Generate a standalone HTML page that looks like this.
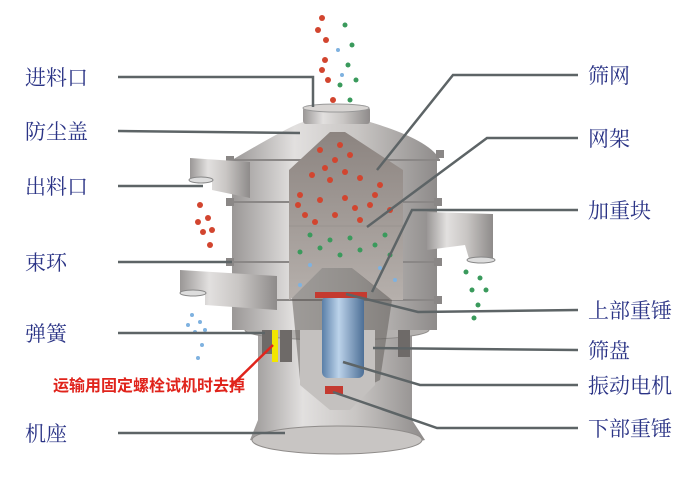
<!DOCTYPE html>
<html><head><meta charset="utf-8"><style>
html,body{margin:0;padding:0;background:#fff;}
svg{display:block}
.lb{font-family:"Noto Serif CJK SC","Liberation Serif",serif;font-size:21px;fill:#2b3486;}
</style></head><body>
<svg width="700" height="500" viewBox="0 0 700 500" xmlns="http://www.w3.org/2000/svg">
<defs>
<linearGradient id="m" x1="0" x2="1" y1="0" y2="0">
<stop offset="0" stop-color="#9a9796"/><stop offset="0.3" stop-color="#e2e0df"/><stop offset="0.6" stop-color="#c9c6c4"/><stop offset="1" stop-color="#8e8b8a"/></linearGradient>
<linearGradient id="b" x1="0" x2="1"><stop offset="0" stop-color="#5a7fa8"/><stop offset="0.4" stop-color="#bcd3ea"/><stop offset="1" stop-color="#4d6f96"/></linearGradient>
<linearGradient id="in" x1="0" x2="0" y1="0" y2="1"><stop offset="0" stop-color="#8c8480"/><stop offset="1" stop-color="#b6b0ac"/></linearGradient>
</defs>
<!-- base -->
<path d="M258 335 L412 335 L412 420 L425 440 Q340 460 250 440 L258 420Z" fill="url(#m)"/>
<ellipse cx="337" cy="440" rx="85" ry="14" fill="#c8c5c3" stroke="#8f8c8a"/>
<ellipse cx="337" cy="330" rx="92" ry="10" fill="#b4b1af" stroke="#8f8c8a"/>
<!-- springs -->
<rect x="262" y="322" width="12" height="32" fill="#6e6a68"/>
<rect x="280" y="322" width="12" height="40" fill="#6e6a68"/>
<rect x="398" y="322" width="12" height="35" fill="#6e6a68"/>
<rect x="272" y="328" width="6" height="34" fill="#f2e600"/>
<!-- body -->
<rect x="232" y="160" width="205" height="170" fill="url(#m)"/>
<path d="M232 160 Q300 120 305 122 L370 122 Q430 140 440 160Z" fill="url(#m)"/>
<rect x="303" y="107" width="67" height="17" rx="3" fill="url(#m)"/>
<ellipse cx="336" cy="108" rx="33" ry="4" fill="#d8d5d3" stroke="#999"/>
<path d="M232 160 L440 160 M232 202 L437 202 M232 262 L437 262 M232 300 L437 300" stroke="#8a8786" stroke-width="2"/>
<g fill="#8a8786"><rect x="226" y="156" width="8" height="8"/><rect x="436" y="150" width="8" height="8"/><rect x="226" y="198" width="8" height="8"/><rect x="434" y="198" width="8" height="8"/><rect x="226" y="258" width="8" height="8"/><rect x="434" y="258" width="8" height="8"/><rect x="434" y="296" width="8" height="8"/></g>
<!-- outlets -->
<path d="M190 158 L250 162 L250 198 L212 190 L212 180 L190 178Z" fill="url(#m)"/>
<ellipse cx="201" cy="180" rx="12" ry="3" fill="#ddd" stroke="#888"/>
<path d="M180 270 L277 276 L277 310 L205 305 L205 292 L180 292Z" fill="url(#m)"/>
<ellipse cx="193" cy="293" rx="13" ry="3" fill="#ddd" stroke="#888"/>
<path d="M427 212 L493 214 L493 260 L470 262 L465 245 L427 250Z" fill="url(#m)"/>
<ellipse cx="481" cy="260" rx="14" ry="3" fill="#ddd" stroke="#888"/>
<!-- cutaway -->
<path d="M289 170 L330 132 L345 132 L403 170 L403 300 L390 300 L352 268 L322 268 L292 298 L289 300Z" fill="url(#in)"/>
<path d="M289 226 L403 226" stroke="#9e9894" stroke-width="2"/>
<path d="M292 298 L322 268 L352 268 L392 300 L380 380 L340 400 L300 380Z" fill="#5a5552" opacity="0.5"/>
<path d="M300 330 L300 385 L330 410 L350 410 L375 385 L375 330Z" fill="#c4c1bf"/>
<rect x="322" y="296" width="42" height="82" rx="6" fill="url(#b)"/>
<rect x="315" y="292" width="52" height="6" fill="#c43a30"/>
<rect x="325" y="386" width="18" height="8" fill="#c43a30"/>
<!-- particles -->
<g fill="#d2452f">
<circle cx="320" cy="150" r="3"/><circle cx="335" cy="160" r="3"/><circle cx="350" cy="155" r="3"/><circle cx="312" cy="175" r="3"/><circle cx="330" cy="180" r="3"/><circle cx="360" cy="178" r="3"/><circle cx="380" cy="185" r="3"/><circle cx="300" cy="195" r="3"/><circle cx="320" cy="200" r="3"/><circle cx="345" cy="198" r="3"/><circle cx="370" cy="205" r="3"/><circle cx="390" cy="210" r="3"/><circle cx="305" cy="215" r="3"/><circle cx="335" cy="215" r="3"/><circle cx="360" cy="220" r="3"/>
<circle cx="340" cy="145" r="3"/><circle cx="325" cy="168" r="3"/><circle cx="345" cy="172" r="3"/><circle cx="298" cy="205" r="3"/><circle cx="375" cy="195" r="3"/><circle cx="355" cy="208" r="3"/><circle cx="315" cy="222" r="3"/>
<circle cx="200" cy="205" r="3"/><circle cx="208" cy="218" r="3"/><circle cx="203" cy="232" r="3"/><circle cx="210" cy="245" r="3"/><circle cx="198" cy="222" r="3"/><circle cx="212" cy="230" r="3"/>
<circle cx="322" cy="18" r="3"/><circle cx="326" cy="40" r="3"/><circle cx="325" cy="60" r="3"/><circle cx="328" cy="80" r="3"/><circle cx="333" cy="100" r="3"/><circle cx="318" cy="30" r="3"/><circle cx="322" cy="70" r="3"/></g>
<g fill="#3a9a5c">
<circle cx="310" cy="235" r="2.5"/><circle cx="330" cy="240" r="2.5"/><circle cx="350" cy="238" r="2.5"/><circle cx="375" cy="245" r="2.5"/><circle cx="300" cy="252" r="2.5"/><circle cx="340" cy="255" r="2.5"/><circle cx="390" cy="255" r="2.5"/><circle cx="320" cy="248" r="2.5"/><circle cx="360" cy="250" r="2.5"/><circle cx="385" cy="235" r="2.5"/>
<circle cx="466" cy="272" r="2.5"/><circle cx="480" cy="278" r="2.5"/><circle cx="472" cy="290" r="2.5"/><circle cx="478" cy="305" r="2.5"/><circle cx="474" cy="318" r="2.5"/><circle cx="486" cy="290" r="2.5"/>
<circle cx="345" cy="25" r="2.5"/><circle cx="352" cy="45" r="2.5"/><circle cx="348" cy="65" r="2.5"/><circle cx="340" cy="85" r="2.5"/><circle cx="350" cy="100" r="2.5"/><circle cx="356" cy="80" r="2.5"/></g>
<g fill="#7fb2e0">
<circle cx="192" cy="315" r="2"/><circle cx="200" cy="322" r="2"/><circle cx="195" cy="332" r="2"/><circle cx="202" cy="345" r="2"/><circle cx="198" cy="358" r="2"/><circle cx="188" cy="325" r="2"/><circle cx="205" cy="330" r="2"/>
<circle cx="300" cy="285" r="2"/><circle cx="395" cy="280" r="2"/><circle cx="338" cy="50" r="2"/><circle cx="342" cy="75" r="2"/><circle cx="310" cy="265" r="2"/><circle cx="380" cy="268" r="2"/></g>
<!-- leader lines -->
<g stroke="#5d6466" stroke-width="2.5" fill="none">
<path d="M118 77 L313 77 L313 107"/>
<path d="M118 131 L300 133"/>
<path d="M118 186 L203 186"/>
<path d="M118 262 L232 262"/>
<path d="M118 333 L265 333"/>
<path d="M118 433 L285 433"/>
<path d="M578 75 L453 75 L377 170"/>
<path d="M578 138 L487 138 L367 227"/>
<path d="M578 210 L412 210 L372 292"/>
<path d="M578 310 L418 312 L346 294"/>
<path d="M578 350 L373 348"/>
<path d="M578 385 L420 385 L343 362"/>
<path d="M578 428 L437 428 L333 392"/>
</g>
<path d="M230 387 L273 345" stroke="#e0241c" stroke-width="2.5"/>
<g class="lb">
<text x="25" y="85">进料口</text><text x="25" y="139">防尘盖</text><text x="25" y="194">出料口</text><text x="25" y="270">束环</text><text x="25" y="341">弹簧</text><text x="25" y="441">机座</text>
<text x="588" y="83">筛网</text><text x="588" y="146">网架</text><text x="588" y="218">加重块</text><text x="588" y="318">上部重锤</text><text x="588" y="358">筛盘</text><text x="588" y="393">振动电机</text><text x="588" y="436">下部重锤</text>
</g>
<text x="53" y="391" font-family="'Noto Sans CJK SC','Liberation Sans',sans-serif" font-size="16" font-weight="bold" fill="#e0241c">运输用固定螺栓试机时去掉</text>
</svg>
</body></html>
